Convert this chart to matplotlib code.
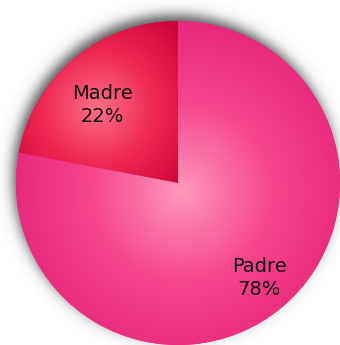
import numpy as np
import matplotlib
matplotlib.use('Agg')
import matplotlib.pyplot as plt
from matplotlib.colors import LinearSegmentedColormap

# datos del grafico
etiquetas = ['Madre', 'Padre']
porcentajes = [22, 78]

# degradado de cada sector (centro claro -> borde oscuro)
degradados = [['#ff6e88', '#ee2450', '#c80036'],
              ['#ff98bc', '#f6468e', '#e8277b']]
colores_borde = [g[-1] for g in degradados]
# centro del brillo de cada sector, en pixeles
brillo = [(98, 108), (182, 192)]
alcance_brillo = [120, 178]

W, H = 340, 345
cx, cy, r = 178, H - 183, 162

fig = plt.figure(figsize=(W / 100, H / 100), dpi=100)
ax = fig.add_axes([0, 0, 1, 1])

xx, yy = np.meshgrid(np.arange(W) + 0.5, np.arange(H) + 0.5)
yy = H - yy  # filas de arriba hacia abajo

# sombra difusa alrededor del circulo (desplazada arriba a la izquierda)
d = np.hypot(xx - (cx - 3), yy - (cy + 6)) - r
alfa = 0.85 / (1 + np.exp(d / 3.8))
sombra = np.zeros((H, W, 4))
sombra[..., :3] = 0.22
sombra[..., 3] = alfa
ax.imshow(sombra, extent=(0, W, 0, H), origin='upper', zorder=1, interpolation='bilinear')

wedges, _ = ax.pie(porcentajes, startangle=90, center=(cx, cy), radius=r,
                   colors=colores_borde, wedgeprops=dict(linewidth=0),
                   frame=True)
ax.set_xlim(0, W)
ax.set_ylim(0, H)
ax.axis('off')

for w, grad, (bx, by), alc in zip(wedges, degradados, brillo, alcance_brillo):
    w.set_zorder(2)
    cmap = LinearSegmentedColormap.from_list('g', grad)
    dist = np.hypot(xx - bx, yy - (H - by)) / alc
    img = ax.imshow(np.clip(dist, 0, 1), cmap=cmap, vmin=0, vmax=1,
                    extent=(0, W, 0, H), origin='upper', zorder=3,
                    interpolation='bilinear')
    img.set_clip_path(w)

# etiquetas dentro de cada sector
dist_etiqueta = [0.67, 0.77]
giro_etiqueta = [4.5, 1.0]
for w, nombre, pct, f, g in zip(wedges, etiquetas, porcentajes, dist_etiqueta, giro_etiqueta):
    ang = np.deg2rad((w.theta1 + w.theta2) / 2 + g)
    tx = cx + f * r * np.cos(ang)
    ty = cy + f * r * np.sin(ang)
    ax.text(tx, ty, f'{nombre}\n{pct}%', ha='center', va='center',
            fontsize=14, linespacing=1.25, color='#111111', zorder=5,
            family='DejaVu Sans')

fig.savefig('out.png', dpi=100)
